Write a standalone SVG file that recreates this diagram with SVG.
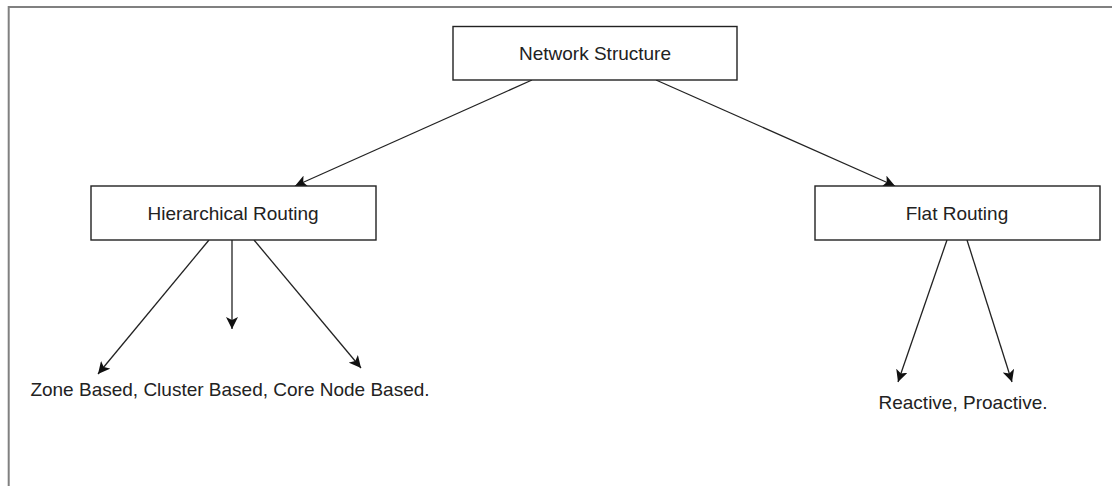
<svg xmlns="http://www.w3.org/2000/svg" width="1112" height="486" viewBox="0 0 1112 486">
<style>
.box{fill:#fff;stroke:#222;stroke-width:1.4}
.lbl{font-family:"Liberation Sans",Arial,sans-serif;font-size:19px;fill:#222;text-anchor:middle}
.edge{stroke:#222;stroke-width:1.3;fill:none;marker-end:url(#arr)}
.frame{stroke:#808080;stroke-width:2;fill:none}
</style>
<defs>
<marker id="arr" markerWidth="14" markerHeight="12" refX="12" refY="6" orient="auto" markerUnits="userSpaceOnUse">
<path d="M0,0 L12,6 L0,12 L3,6 Z" fill="#111"/>
</marker>
</defs>
<rect width="1112" height="486" fill="#fff"/>
<path class="frame" d="M8.7,486 V7 H1112"/>
<g id="connectors">
<line class="edge" x1="532" y1="80" x2="295" y2="186"/>
<line class="edge" x1="656" y1="80" x2="895" y2="186"/>
<line class="edge" x1="209" y1="240" x2="98" y2="374"/>
<line class="edge" x1="232" y1="240" x2="232" y2="329"/>
<line class="edge" x1="254" y1="240" x2="361" y2="368"/>
<line class="edge" x1="947" y1="240" x2="898" y2="382"/>
<line class="edge" x1="967" y1="240" x2="1012" y2="382"/>
</g>
<g id="network-structure">
<rect class="box" x="453" y="26.5" width="284" height="53.5"/>
<text class="lbl" x="595" y="60">Network Structure</text>
</g>
<g id="hierarchical-routing">
<rect class="box" x="91" y="186" width="285" height="54"/>
<text class="lbl" x="233" y="220">Hierarchical Routing</text>
</g>
<g id="flat-routing">
<rect class="box" x="815" y="186" width="285" height="54"/>
<text class="lbl" x="957" y="220">Flat Routing</text>
</g>
<g id="hierarchical-types">
<text class="lbl" x="230" y="396">Zone Based, Cluster Based, Core Node Based.</text>
</g>
<g id="flat-types">
<text class="lbl" x="963" y="409">Reactive, Proactive.</text>
</g>
</svg>
